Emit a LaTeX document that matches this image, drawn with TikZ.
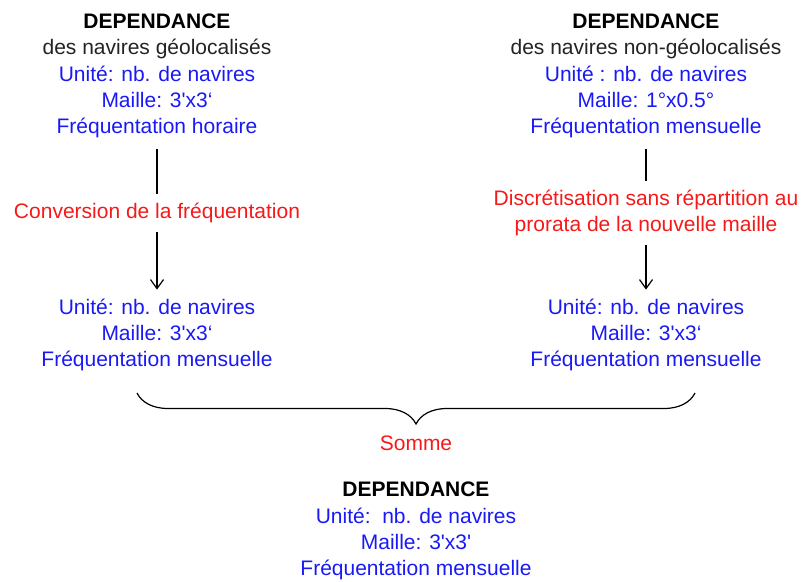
\documentclass[tikz,border=0pt]{standalone}
\usepackage{fontspec}
\setmainfont{Liberation Sans}
\usetikzlibrary{arrows.meta,decorations.pathreplacing}

\definecolor{txtblue}{RGB}{25,25,245}
\definecolor{txtred}{RGB}{245,25,25}
\definecolor{txtgray}{RGB}{35,35,35}

\tikzset{
  lbl/.style={align=center, inner sep=0pt, font=\fontsize{21}{26.3}\selectfont},
  info/.style={lbl, text=txtblue},
  oper/.style={lbl, text=txtred},
  link/.style={black, line width=1.2pt},
  arr/.style={link, -{Straight Barb[length=9pt,width=13pt]}}
}

\begin{document}
\begin{tikzpicture}[x=1pt, y=-1pt]
\useasboundingbox (0,0) rectangle (803,581);

% Sources
\node[lbl] (geo) at (157,76) {\textbf{DEPENDANCE}\\\textcolor{txtgray}{des navires géolocalisés}\\\textcolor{txtblue}{Unité: nb. de navires}\\\textcolor{txtblue}{Maille: 3\textquotesingle x3‘}\\\textcolor{txtblue}{Fréquentation horaire}};
\node[lbl] (nongeo) at (646,76) {\textbf{DEPENDANCE}\\\textcolor{txtgray}{des navires non-géolocalisés}\\\textcolor{txtblue}{Unité : nb. de navires}\\\textcolor{txtblue}{Maille: 1°x0.5°}\\\textcolor{txtblue}{Fréquentation mensuelle}};

% Operations
\node[oper] (conv) at (157,213) {Conversion de la fréquentation};
\node[oper] (discr) at (646,213) {Discrétisation sans répartition au\\prorata de la nouvelle maille};

% Results
\node[info] (geomois) at (157,335) {Unité: nb. de navires\\Maille: 3\textquotesingle x3‘\\Fréquentation mensuelle};
\node[info] (nongeomois) at (646,335) {Unité: nb. de navires\\Maille: 3\textquotesingle x3‘\\Fréquentation mensuelle};

% Links
\draw[link, shorten <=11pt, shorten >=9pt] (geo) -- (conv);
\draw[arr, shorten <=9pt, shorten >=9pt] (conv) -- (geomois);
\draw[link, shorten <=11pt, shorten >=9pt] (nongeo) -- (discr);
\draw[arr, shorten <=9pt, shorten >=9pt] (discr) -- (nongeomois);

% Sum
\coordinate (bl) at (137,393);
\coordinate (br) at (695,393);
\draw[link, decorate, decoration={brace, mirror, amplitude=31pt}] (bl) -- (br);
\node[oper] (somme) at (416,443) {Somme};

\node[lbl] (total) at (416,531) {\textbf{DEPENDANCE}\\\textcolor{txtblue}{Unité:\ \ nb. de navires}\\\textcolor{txtblue}{Maille: 3\textquotesingle x3\textquotesingle}\\\textcolor{txtblue}{Fréquentation mensuelle}};
\end{tikzpicture}
\end{document}
